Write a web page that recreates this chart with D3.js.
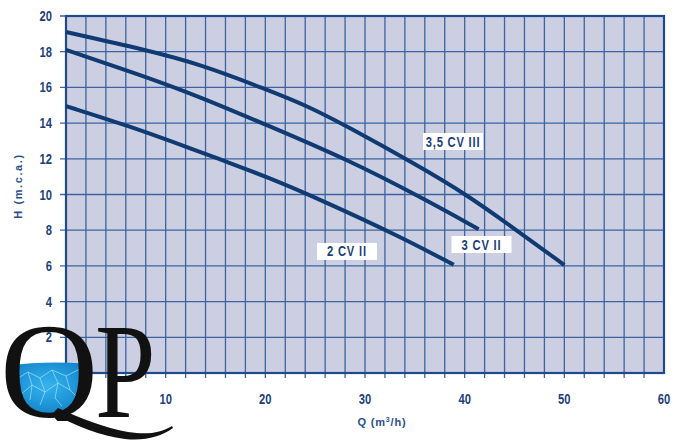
<!DOCTYPE html>
<html><head><meta charset="utf-8">
<script src="https://cdn.jsdelivr.net/npm/d3@7"></script>
<style>html,body{margin:0;padding:0;background:#fff;}svg{display:block;}</style>
</head><body>
<svg id="c" width="682" height="440"></svg>
<script>
const yTicks = [2,4,6,8,10,12,14,16,18,20];
const xTickLabels = [10,20,30,40,50,60];
const seriesNames = ["3,5 CV III","3 CV II","2 CV II"];
const q35 = [0,8,13.4,20.1,24.2,28.2,34.9,40.2,45.2,50];
const h35 = [19.1,18.1,17.31,15.89,14.97,13.82,11.75,10.0,8.0,6.05];
const q3 = [0,8,13.4,20.1,28.2,35.5,41.4];
const h3 = [18.1,16.6,15.48,13.9,11.97,9.88,8.06];
const q2 = [0,6,13.4,16,20.1,25.5,33.5,38.9];
const h2 = [14.95,13.9,12.4,11.85,11.0,9.72,7.65,6.06];
const labelQ = [38.83,41.69,28.19];
const labelH = [12.97,7.2,6.81];

const svg = d3.select("#c");
const L=66, R=664, T=16, B=373;
const x = d3.scaleLinear().domain([0,60]).range([L,R]);
const y = d3.scaleLinear().domain([0,20]).range([B,T]);
const blue = "#1f4a8c", txt="#1d3f7a", gridC="#3d64a0";

svg.append("rect").attr("x",L).attr("y",T).attr("width",R-L).attr("height",B-T).attr("fill","#cccee2");
const gridX = d3.range(2,60,2), gridY = d3.range(2,20,2);
svg.append("g").selectAll("line").data(gridX).join("line")
  .attr("x1",d=>x(d)).attr("x2",d=>x(d)).attr("y1",T).attr("y2",B+5)
  .attr("stroke",gridC).attr("stroke-width",1.3);
svg.append("g").selectAll("line").data(gridY).join("line")
  .attr("x1",L-6).attr("x2",R).attr("y1",d=>y(d)).attr("y2",d=>y(d))
  .attr("stroke",gridC).attr("stroke-width",1.3);
svg.append("line").attr("x1",L-6).attr("x2",L).attr("y1",T).attr("y2",T).attr("stroke",blue).attr("stroke-width",1.3);
svg.append("rect").attr("x",L).attr("y",T).attr("width",R-L).attr("height",B-T)
  .attr("fill","none").attr("stroke",blue).attr("stroke-width",2.2);

const tf = "'Liberation Sans',Arial,sans-serif";
svg.append("g").selectAll("text").data(yTicks).join("text")
  .attr("transform",d=>`translate(52,${y(d)}) scale(0.8,1)`).attr("dy","0.36em").attr("text-anchor","end")
  .attr("font-family",tf).attr("font-weight","bold").attr("font-size",14).attr("fill",txt).text(d=>d);
svg.append("g").selectAll("text").data(xTickLabels).join("text")
  .attr("transform",d=>`translate(${x(d)},399) scale(0.8,1)`).attr("dy","0.36em").attr("text-anchor","middle")
  .attr("font-family",tf).attr("font-weight","bold").attr("font-size",14).attr("fill",txt).text(d=>d);

svg.append("text").attr("transform","translate(22,186) rotate(-90)").attr("text-anchor","middle")
  .attr("font-family",tf).attr("font-weight","bold").attr("font-size",11)
  .attr("letter-spacing","1.6px").attr("fill","#2a4f8e").text("H (m.c.a.)");
const qt = svg.append("text").attr("x",382).attr("y",426).attr("text-anchor","middle")
  .attr("font-family",tf).attr("font-weight","bold").attr("font-size",11)
  .attr("letter-spacing","0.8px").attr("fill","#2a4f8e");
qt.append("tspan").text("Q (m");
qt.append("tspan").attr("font-size",7).attr("dy",-4).text("3");
qt.append("tspan").attr("dy",4).text("/h)");

const line = d3.line().x(d=>x(d[0])).y(d=>y(d[1])).curve(d3.curveBasis);
const series = [d3.zip(q35,h35), d3.zip(q3,h3), d3.zip(q2,h2)];
svg.append("g").selectAll("path").data(series).join("path")
  .attr("d",line).attr("fill","none").attr("stroke","#0f3a72").attr("stroke-width",4);

const lg = svg.append("g").selectAll("g").data(seriesNames).join("g")
  .attr("transform",(d,i)=>`translate(${x(labelQ[i])},${y(labelH[i])})`);
lg.append("rect").attr("x",-30).attr("y",-8.5).attr("width",60).attr("height",17).attr("fill","#fff");
lg.append("text").attr("text-anchor","middle").attr("dy","0.36em").attr("transform","scale(0.8,1)")
  .attr("font-family",tf).attr("font-weight","bold").attr("font-size",14).attr("letter-spacing","1px")
  .attr("fill",txt).text(d=>d);

// QP logo
const defs = svg.append("defs");
const cp = defs.append("clipPath").attr("id","wc");
cp.append("ellipse").attr("cx",47).attr("cy",372).attr("rx",38).attr("ry",44);
const qc = defs.append("clipPath").attr("id","qc");
qc.append("rect").attr("x",-10).attr("y",300).attr("width",200).attr("height",121);
const gr = defs.append("radialGradient").attr("id","wg").attr("cx","50%").attr("cy","40%").attr("r","65%");
gr.append("stop").attr("offset","0%").attr("stop-color","#35b4ee");
gr.append("stop").attr("offset","100%").attr("stop-color","#0a78c2");
const wg = svg.append("g").attr("clip-path","url(#wc)");
wg.append("path").attr("d","M5,366 Q45,360 90,364 L90,420 L5,420 Z").attr("fill","url(#wg)");
const caust = ["M15,380 L28,372 L40,378 L52,370 L66,376 L80,369","M20,395 L32,385 L45,392 L58,383 L70,390",
  "M28,372 L32,385 L30,400","M52,370 L58,383 L55,398 L62,406","M40,378 L45,392 L40,405","M66,376 L70,390 L78,398"];
wg.selectAll("path.c").data(caust).join("path").attr("class","c").attr("d",d=>d)
  .attr("fill","none").attr("stroke","#9fe3ff").attr("stroke-width",1).attr("opacity",0.7);
const sf = "'Liberation Serif','DejaVu Serif',serif";
svg.append("text").attr("x",0).attr("y",417).attr("font-family",sf).attr("clip-path","url(#qc)")
  .attr("font-size",136).attr("fill","#111").text("Q");
svg.append("path").attr("fill","#111")
  .attr("d","M58,408 C80,418 105,428 128,432 C148,435 160,433 172,426 L173,428 C160,437 145,441 125,439 C100,436 78,426 52,414 Z");
svg.append("text").attr("transform","translate(95,417) scale(0.8,1)").attr("font-family",sf)
  .attr("font-size",136).attr("fill","#111").text("P");
</script>
</body></html>
